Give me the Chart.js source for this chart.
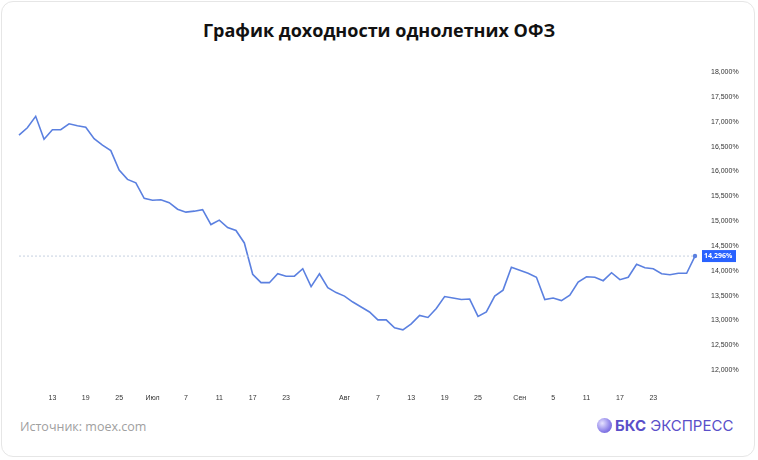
<!DOCTYPE html>
<html><head><meta charset="utf-8">
<script src="https://cdn.jsdelivr.net/npm/chart.js@4"></script>
<style>
html,body{margin:0;padding:0;background:#fff;width:758px;height:460px;overflow:hidden;font-family:"Open Sans",sans-serif}
#card{position:absolute;left:1px;top:1px;width:754px;height:456px;border:1px solid #e6e6e6;border-radius:12px;box-sizing:border-box}
#title{position:absolute;left:0;width:758px;top:18px;text-align:center;font-size:18px;font-weight:700;color:#111}
#wrap{position:absolute;left:0;top:50px;width:740px;height:359px}
#src{position:absolute;left:20px;top:418px;font-size:12.5px;color:#a0a0a0}
#logo{position:absolute;left:597px;top:416px;font-size:15px;color:#5a4fc9;display:flex;align-items:center;font-family:Inter,sans-serif}
#logo .c{width:15px;height:15px;border-radius:50%;background:radial-gradient(circle at 35% 35%,#e6e2ff,#8a7ee8 60%,#5a4fc9);margin-right:3px}
</style></head><body>
<div id="card"></div>
<div id="title">График доходности однолетних ОФЗ</div>
<div id="wrap"><canvas id="c"></canvas></div>
<div id="src">Источник: moex.com</div>
<div id="logo"><div class="c"></div><b>БКС</b>&nbsp;ЭКСПРЕСС</div>
<script>
const yields=[16.73,16.88,17.11,16.65,16.84,16.84,16.96,16.92,16.89,16.66,16.53,16.42,16.03,15.84,15.77,15.46,15.42,15.43,15.37,15.24,15.18,15.20,15.23,14.93,15.02,14.87,14.81,14.56,
13.93,13.76,13.76,13.94,13.89,13.89,14.04,13.68,13.94,13.66,13.56,13.49,13.37,13.27,13.17,13.01,13.01,12.85,12.81,12.93,13.10,13.06,13.24,13.48,13.45,13.42,13.43,13.08,13.17,13.49,13.61,14.07,14.01,13.95,13.87,13.42,13.45,13.40,13.51,13.77,13.88,13.87,13.80,13.96,13.82,13.87,14.13,14.06,14.04,13.94,13.92,13.95,13.95,14.296];
const tickIdx=[4,8,12,16,20,24,28,32,39,43,47,51,55,60,64,68,72,76];
const tickText=["13","19","25","Июл","7","11","17","23","Авг","7","13","19","25","Сен","5","11","17","23"];
const yTicks=[12,12.5,13,13.5,14,14.5,15,15.5,16,16.5,17,17.5,18];
const lastValue=14.296;
const labels=yields.map((_,i)=>{const k=tickIdx.indexOf(i);return k>=0?tickText[k]:"";});
const fmt=v=>v.toFixed(3).replace('.',',')+'%';
const lastPlugin={id:'last',afterDraw(ch){
 const c=ch.ctx,y=ch.scales.y.getPixelForValue(lastValue),a=ch.chartArea;
 c.save();c.strokeStyle='#b8c4d8';c.setLineDash([2,2]);c.lineWidth=0.8;
 c.beginPath();c.moveTo(a.left,y);c.lineTo(a.right,y);c.stroke();c.setLineDash([]);
 c.fillStyle='#2962ff';c.fillRect(a.right+7,y-6,34,12);
 c.fillStyle='#fff';c.font='bold 7px "Open Sans"';c.textAlign='left';c.textBaseline='middle';
 c.fillText(fmt(lastValue),a.right+9,y);c.restore();}};
new Chart(document.getElementById('c'),{type:'line',
 data:{labels,datasets:[{data:yields,borderColor:'#5b80e0',borderWidth:1.6,tension:0,
  pointRadius:ctx=>ctx.dataIndex===yields.length-1?2.2:0,pointBackgroundColor:'#5b80e0',pointBorderWidth:0}]},
 options:{responsive:true,maintainAspectRatio:false,animation:false,
  layout:{padding:{left:19,top:1,right:0,bottom:0}},
  plugins:{legend:{display:false},tooltip:{enabled:false}},
  scales:{
   x:{offset:false,grid:{display:false},border:{display:false},
    afterFit(s){s.height=29;},
    ticks:{autoSkip:false,maxRotation:0,padding:6,color:'#333',font:{size:7}}},
   y:{position:'right',min:11.8,max:18.2,grid:{display:false},border:{display:false},
    afterBuildTicks(s){s.ticks=yTicks.map(v=>({value:v}));},
    afterFit(s){s.width=45;},
    ticks:{padding:8,color:'#333',font:{size:7},callback:v=>fmt(v)}}}},
 plugins:[lastPlugin]});
</script></body></html>
